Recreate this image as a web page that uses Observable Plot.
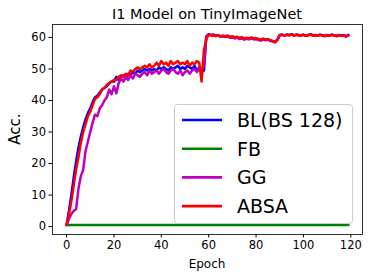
<!DOCTYPE html>
<html>
<head>
<meta charset="utf-8">
<script src="https://cdn.jsdelivr.net/npm/d3@7"></script>
<script src="https://cdn.jsdelivr.net/npm/@observablehq/plot@0.6"></script>
<style>
  html, body { margin: 0; padding: 0; background: white; }
  #chart { width: 374px; height: 280px; }
</style>
</head>
<body>
<div id="chart"></div>
<script>
const title = "I1 Model on TinyImageNet";
const xLabel = "Epoch";
const yLabel = "Acc.";
const xTicks = [0, 20, 40, 60, 80, 100, 120];
const yTicks = [0, 10, 20, 30, 40, 50, 60];
const seriesNames = ["BL(BS 128)", "FB", "GG", "ABSA"];
const seriesColors = ["#0000ff", "#008000", "#bf00bf", "#ff0000"];

const blValues = [
  0.5, 5, 10, 15.5, 20.5, 25, 28.5, 31.5, 34, 36,
  37.5, 39.5, 41, 41.5, 42.5, 43.5, 44, 44.5, 45.5, 46,
  46, 47.5, 46.5, 47.5, 48, 47, 48.5, 48, 49, 48.5,
  49.5, 49, 49.5, 50, 49.5, 50, 49.5, 50, 49.5, 50.5,
  50, 50.5, 50, 49.5, 50.5, 50, 50.5, 51, 50, 50.5,
  50, 51, 50.5, 50, 51, 49.5, 50.5, 49, 49.5, 60.3,
  61.0, 60.8, 60.9, 60.6, 60.7, 60.4, 60.5, 60.2, 60.4, 60.0,
  60.1, 59.8, 60.0, 59.6, 59.8, 59.4, 59.7, 59.5, 59.8, 59.5,
  59.6, 59.3, 59.1, 59.5, 59.2, 59.4, 59.0, 58.9, 58.6, 59.3,
  60.8, 60.9, 60.7, 60.9, 60.8, 61.0, 60.7, 60.9, 60.8, 60.7,
  60.9, 60.6, 60.8, 61.0, 60.7, 60.8, 60.6, 60.9, 60.7, 60.5,
  60.8, 60.6, 60.9, 60.7, 60.5, 60.8, 60.6, 60.7, 60.4, 60.8
];

const fbValues = [
  0.5, 0.5, 0.5, 0.5, 0.5, 0.5, 0.5, 0.5, 0.5, 0.5,
  0.5, 0.5, 0.5, 0.5, 0.5, 0.5, 0.5, 0.5, 0.5, 0.5,
  0.5, 0.5, 0.5, 0.5, 0.5, 0.5, 0.5, 0.5, 0.5, 0.5,
  0.5, 0.5, 0.5, 0.5, 0.5, 0.5, 0.5, 0.5, 0.5, 0.5,
  0.5, 0.5, 0.5, 0.5, 0.5, 0.5, 0.5, 0.5, 0.5, 0.5,
  0.5, 0.5, 0.5, 0.5, 0.5, 0.5, 0.5, 0.5, 0.5, 0.5,
  0.5, 0.5, 0.5, 0.5, 0.5, 0.5, 0.5, 0.5, 0.5, 0.5,
  0.5, 0.5, 0.5, 0.5, 0.5, 0.5, 0.5, 0.5, 0.5, 0.5,
  0.5, 0.5, 0.5, 0.5, 0.5, 0.5, 0.5, 0.5, 0.5, 0.5,
  0.5, 0.5, 0.5, 0.5, 0.5, 0.5, 0.5, 0.5, 0.5, 0.5,
  0.5, 0.5, 0.5, 0.5, 0.5, 0.5, 0.5, 0.5, 0.5, 0.5,
  0.5, 0.5, 0.5, 0.5, 0.5, 0.5, 0.5, 0.5, 0.5, 0.5
];

const ggValues = [
  0.5, 2.5, 4, 5, 5.5, 12, 16, 18, 24, 27,
  30, 33, 35.5, 35, 37.5, 38.5, 40, 41, 43.5, 42,
  44.5, 42.3, 45.5, 47, 46, 47.5, 46.5, 48, 47, 48.5,
  48, 47.5, 48.5, 49, 48, 49.5, 48.5, 49, 49.5, 48.5,
  49.5, 50, 49, 48.5, 49.5, 50, 49, 48.5, 49.5, 48,
  49, 49.5, 48.5, 49.5, 50, 49, 50, 50, 51, 60.4,
  60.9, 60.7, 60.8, 60.5, 60.6, 60.3, 60.4, 60.1, 60.3, 59.9,
  60.0, 59.7, 59.9, 59.5, 59.7, 59.3, 59.6, 59.4, 59.7, 59.4,
  59.5, 59.2, 59.0, 59.4, 59.1, 59.3, 58.9, 58.8, 58.5, 59.2,
  60.7, 60.8, 60.6, 60.8, 60.7, 60.9, 60.6, 60.8, 60.7, 60.6,
  60.8, 60.5, 60.7, 60.9, 60.6, 60.7, 60.5, 60.8, 60.6, 60.4,
  60.7, 60.5, 60.8, 60.6, 60.4, 60.7, 60.5, 60.6, 60.3, 60.6
];

const absaValues = [
  0.5, 4, 8, 13, 18, 22, 26.5, 30, 32.5, 35,
  36.5, 38.5, 40.5, 41, 42, 43.5, 44, 45, 45.5, 46,
  46.5, 46.5, 47.5, 48, 47.5, 48.5, 48, 49.5, 49, 50,
  50.5, 50, 50.5, 51, 50.5, 51.5, 50.5, 51, 52, 51,
  52.5, 51.5, 52, 51, 52.5, 51.5, 52, 52.5, 51.5, 52,
  51.5, 52.5, 51, 52, 51.5, 52.5, 52, 46, 56, 59.5,
  60.8, 60.6, 60.7, 60.4, 60.6, 60.3, 60.5, 60.4, 60.6, 60.2,
  60.4, 60.0, 60.2, 59.9, 60.1, 59.7, 59.9, 59.6, 60.0, 59.7,
  59.8, 59.5, 59.2, 59.6, 59.3, 59.5, 59.1, 58.8, 58.4, 59.2,
  60.7, 60.8, 60.6, 60.8, 60.7, 60.9, 60.6, 60.8, 60.7, 60.6,
  60.8, 60.5, 60.7, 60.9, 60.6, 60.7, 60.5, 60.8, 60.6, 60.4,
  60.7, 60.5, 60.8, 60.6, 60.4, 60.7, 60.5, 60.6, 60.3, 60.7
];

const allValues = [blValues, fbValues, ggValues, absaValues];
const rows = [];
allValues.forEach((vals, si) => {
  vals.forEach((v, i) => rows.push({series: seriesNames[si], epoch: i, acc: v}));
});

const font = "'DejaVu Sans', sans-serif";

const chart = Plot.plot({
  width: 374,
  height: 280,
  marginLeft: 52,
  marginRight: 12,
  marginTop: 24,
  marginBottom: 46,
  style: {fontFamily: font, fontSize: "11.5px", color: "black", background: "white"},
  x: {domain: [-5.95, 124.95]},
  y: {domain: [-2.5, 64.1]},
  color: {domain: seriesNames, range: seriesColors},
  marks: [
    Plot.axisX({ticks: xTicks, tickSize: 3.5, tickPadding: 3, label: null, tickFormat: d => String(d), stroke: "black"}),
    Plot.axisY({ticks: yTicks, tickSize: 3.5, tickPadding: 3, label: null, tickFormat: d => String(d), stroke: "black"}),
    Plot.line(rows, {x: "epoch", y: "acc", z: "series", stroke: "series", strokeWidth: 2.5, strokeLinejoin: "round"}),
    Plot.frame({stroke: "black", strokeWidth: 0.8})
  ]
});
document.getElementById("chart").appendChild(chart);

const svg = d3.select(chart);
svg.append("text").attr("x", 207).attr("y", 18.5).attr("text-anchor", "middle")
  .attr("font-family", font).attr("font-size", 14.5).attr("fill", "black").text(title);
svg.append("text").attr("x", 207).attr("y", 268).attr("text-anchor", "middle")
  .attr("font-family", font).attr("font-size", 12).attr("fill", "black").text(xLabel);
svg.append("text").attr("transform", "translate(20,129) rotate(-90)").attr("text-anchor", "middle")
  .attr("font-family", font).attr("font-size", 15).attr("fill", "black").text(yLabel);

const lg = svg.append("g").attr("text-anchor", "start");
lg.append("rect").attr("x", 174.5).attr("y", 104.5).attr("width", 178).attr("height", 119)
  .attr("rx", 3).attr("fill", "white").attr("fill-opacity", 0.8).attr("stroke", "#cccccc").attr("stroke-width", 1);
seriesNames.forEach((name, i) => {
  const cy = 120 + i * 28.7;
  lg.append("line").attr("x1", 182).attr("x2", 222).attr("y1", cy).attr("y2", cy)
    .attr("stroke", seriesColors[i]).attr("stroke-width", 2.6);
  lg.append("text").attr("x", 237).attr("y", cy).attr("dy", "0.36em").attr("text-anchor", "start")
    .attr("font-family", font).attr("font-size", 19).attr("fill", "black").text(name);
});
</script>
</body>
</html>
